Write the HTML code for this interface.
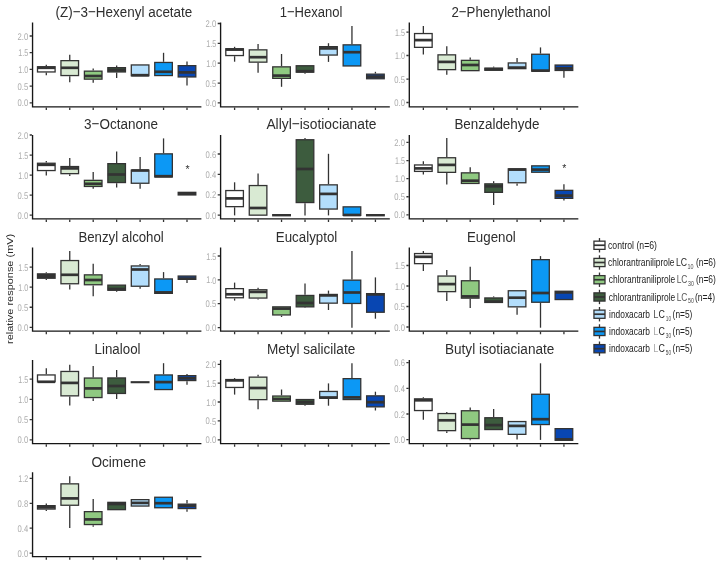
<!DOCTYPE html>
<html><head><meta charset="utf-8"><title>chart</title>
<style>html,body{margin:0;padding:0;background:#fff;}body{width:723px;height:566px;overflow:hidden;font-family:"Liberation Sans",sans-serif;}svg{display:block;will-change:transform;}svg text{font-family:"Liberation Sans",sans-serif;}</style>
</head><body>
<svg width="723" height="566" viewBox="0 0 723 566">
<rect width="723" height="566" fill="#ffffff"/>
<g>
<text x="55.5" y="16.85" font-size="15.3" fill="#2e2e2e" textLength="136.8" lengthAdjust="spacingAndGlyphs">(Z)−3−Hexenyl acetate</text>
<line x1="46.3" y1="64.8" x2="46.3" y2="66.1" stroke="#333333" stroke-width="1.3"/>
<line x1="46.3" y1="72.6" x2="46.3" y2="75.2" stroke="#333333" stroke-width="1.3"/>
<rect x="37.5" y="66.75" width="17.6" height="5.2" fill="#ffffff" stroke="#333333" stroke-width="1.3"/>
<line x1="37.5" y1="67.8" x2="55.1" y2="67.8" stroke="#333333" stroke-width="2.7"/>
<line x1="69.75" y1="54.8" x2="69.75" y2="60" stroke="#333333" stroke-width="1.3"/>
<line x1="69.75" y1="76.2" x2="69.75" y2="82.2" stroke="#333333" stroke-width="1.3"/>
<rect x="60.95" y="60.65" width="17.6" height="14.9" fill="#d9ead3" stroke="#333333" stroke-width="1.3"/>
<line x1="60.95" y1="67.8" x2="78.55" y2="67.8" stroke="#333333" stroke-width="2.7"/>
<line x1="93.2" y1="68.4" x2="93.2" y2="70.5" stroke="#333333" stroke-width="1.3"/>
<line x1="93.2" y1="79.8" x2="93.2" y2="82.8" stroke="#333333" stroke-width="1.3"/>
<rect x="84.4" y="71.15" width="17.6" height="8" fill="#8fc981" stroke="#333333" stroke-width="1.3"/>
<line x1="84.4" y1="76" x2="102" y2="76" stroke="#333333" stroke-width="2.7"/>
<line x1="116.65" y1="65.6" x2="116.65" y2="67" stroke="#333333" stroke-width="1.3"/>
<line x1="116.65" y1="72.6" x2="116.65" y2="78" stroke="#333333" stroke-width="1.3"/>
<rect x="107.85" y="67.65" width="17.6" height="4.3" fill="#3d5c3e" stroke="#333333" stroke-width="1.3"/>
<line x1="107.85" y1="70" x2="125.45" y2="70" stroke="#333333" stroke-width="2.7"/>
<rect x="131.3" y="64.95" width="17.6" height="10.8" fill="#b3defc" stroke="#333333" stroke-width="1.3"/>
<line x1="131.3" y1="75.2" x2="148.9" y2="75.2" stroke="#333333" stroke-width="2.7"/>
<line x1="163.55" y1="52.8" x2="163.55" y2="61.8" stroke="#333333" stroke-width="1.3"/>
<rect x="154.75" y="62.45" width="17.6" height="13.1" fill="#0c98f5" stroke="#333333" stroke-width="1.3"/>
<line x1="154.75" y1="71.8" x2="172.35" y2="71.8" stroke="#333333" stroke-width="2.7"/>
<line x1="187" y1="61.6" x2="187" y2="65" stroke="#333333" stroke-width="1.3"/>
<line x1="187" y1="77.6" x2="187" y2="85.6" stroke="#333333" stroke-width="1.3"/>
<rect x="178.2" y="65.65" width="17.6" height="11.3" fill="#0846b2" stroke="#333333" stroke-width="1.3"/>
<line x1="178.2" y1="72.4" x2="195.8" y2="72.4" stroke="#333333" stroke-width="2.7"/>
<path d="M32.55 22.6V106.8H201.4" fill="none" stroke="#161616" stroke-width="1.35"/>
<path d="M46.3 107.4v2.5M69.75 107.4v2.5M93.2 107.4v2.5M116.65 107.4v2.5M140.1 107.4v2.5M163.55 107.4v2.5M187 107.4v2.5" stroke="#333333" stroke-width="1.3" fill="none"/>
<text x="17.55" y="39.6" font-size="9.7" fill="#acacac" textLength="10.6" lengthAdjust="spacingAndGlyphs" transform="rotate(0.03 23.55 36)">2.0</text>
<text x="18.25" y="56.3" font-size="9.7" fill="#acacac" textLength="9.9" lengthAdjust="spacingAndGlyphs" transform="rotate(0.03 23.55 52.7)">1.5</text>
<text x="18.25" y="73" font-size="9.7" fill="#acacac" textLength="9.9" lengthAdjust="spacingAndGlyphs" transform="rotate(0.03 23.55 69.4)">1.0</text>
<text x="17.55" y="89.7" font-size="9.7" fill="#acacac" textLength="10.6" lengthAdjust="spacingAndGlyphs" transform="rotate(0.03 23.55 86.1)">0.5</text>
<text x="17.55" y="106.4" font-size="9.7" fill="#acacac" textLength="10.6" lengthAdjust="spacingAndGlyphs" transform="rotate(0.03 23.55 102.8)">0.0</text>
<path d="M31.95 36h-2.3M31.95 52.7h-2.3M31.95 69.4h-2.3M31.95 86.1h-2.3M31.95 102.8h-2.3" stroke="#333333" stroke-width="1.3" fill="none"/>
</g>
<g>
<text x="279.7" y="16.85" font-size="15.3" fill="#2e2e2e" textLength="62.8" lengthAdjust="spacingAndGlyphs">1−Hexanol</text>
<line x1="234.6" y1="46.8" x2="234.6" y2="48.1" stroke="#333333" stroke-width="1.3"/>
<line x1="234.6" y1="56.2" x2="234.6" y2="61.7" stroke="#333333" stroke-width="1.3"/>
<rect x="225.8" y="48.75" width="17.6" height="6.8" fill="#ffffff" stroke="#333333" stroke-width="1.3"/>
<line x1="225.8" y1="49.6" x2="243.4" y2="49.6" stroke="#333333" stroke-width="2.7"/>
<line x1="258.07" y1="44.1" x2="258.07" y2="49.2" stroke="#333333" stroke-width="1.3"/>
<line x1="258.07" y1="62.8" x2="258.07" y2="72.7" stroke="#333333" stroke-width="1.3"/>
<rect x="249.27" y="49.85" width="17.6" height="12.3" fill="#d9ead3" stroke="#333333" stroke-width="1.3"/>
<line x1="249.27" y1="57.2" x2="266.87" y2="57.2" stroke="#333333" stroke-width="2.7"/>
<line x1="281.54" y1="54" x2="281.54" y2="66.2" stroke="#333333" stroke-width="1.3"/>
<line x1="281.54" y1="79" x2="281.54" y2="86.8" stroke="#333333" stroke-width="1.3"/>
<rect x="272.74" y="66.85" width="17.6" height="11.5" fill="#8fc981" stroke="#333333" stroke-width="1.3"/>
<line x1="272.74" y1="75.6" x2="290.34" y2="75.6" stroke="#333333" stroke-width="2.7"/>
<line x1="305.01" y1="72.8" x2="305.01" y2="73.7" stroke="#333333" stroke-width="1.3"/>
<rect x="296.21" y="65.75" width="17.6" height="6.4" fill="#3d5c3e" stroke="#333333" stroke-width="1.3"/>
<line x1="296.21" y1="71.2" x2="313.81" y2="71.2" stroke="#333333" stroke-width="2.7"/>
<line x1="328.48" y1="43.2" x2="328.48" y2="46" stroke="#333333" stroke-width="1.3"/>
<line x1="328.48" y1="55.7" x2="328.48" y2="61.9" stroke="#333333" stroke-width="1.3"/>
<rect x="319.68" y="46.65" width="17.6" height="8.4" fill="#b3defc" stroke="#333333" stroke-width="1.3"/>
<line x1="319.68" y1="48.4" x2="337.28" y2="48.4" stroke="#333333" stroke-width="2.7"/>
<line x1="351.95" y1="26.1" x2="351.95" y2="44.2" stroke="#333333" stroke-width="1.3"/>
<rect x="343.15" y="44.85" width="17.6" height="21.1" fill="#0c98f5" stroke="#333333" stroke-width="1.3"/>
<line x1="343.15" y1="52.2" x2="360.75" y2="52.2" stroke="#333333" stroke-width="2.7"/>
<line x1="375.42" y1="71.8" x2="375.42" y2="73.5" stroke="#333333" stroke-width="1.3"/>
<rect x="366.62" y="74.15" width="17.6" height="4.6" fill="#0846b2" stroke="#333333" stroke-width="1.3"/>
<line x1="366.62" y1="76.6" x2="384.22" y2="76.6" stroke="#333333" stroke-width="2.7"/>
<path d="M220.6 22.6V106.8H389.82" fill="none" stroke="#161616" stroke-width="1.35"/>
<path d="M234.6 107.4v2.5M258.07 107.4v2.5M281.54 107.4v2.5M305.01 107.4v2.5M328.48 107.4v2.5M351.95 107.4v2.5M375.42 107.4v2.5" stroke="#333333" stroke-width="1.3" fill="none"/>
<text x="205.6" y="27.1" font-size="9.7" fill="#acacac" textLength="10.6" lengthAdjust="spacingAndGlyphs" transform="rotate(0.03 211.6 23.5)">2.0</text>
<text x="206.3" y="46.95" font-size="9.7" fill="#acacac" textLength="9.9" lengthAdjust="spacingAndGlyphs" transform="rotate(0.03 211.6 43.35)">1.5</text>
<text x="206.3" y="66.8" font-size="9.7" fill="#acacac" textLength="9.9" lengthAdjust="spacingAndGlyphs" transform="rotate(0.03 211.6 63.2)">1.0</text>
<text x="205.6" y="86.65" font-size="9.7" fill="#acacac" textLength="10.6" lengthAdjust="spacingAndGlyphs" transform="rotate(0.03 211.6 83.05)">0.5</text>
<text x="205.6" y="106.5" font-size="9.7" fill="#acacac" textLength="10.6" lengthAdjust="spacingAndGlyphs" transform="rotate(0.03 211.6 102.9)">0.0</text>
<path d="M220 23.5h-2.3M220 43.35h-2.3M220 63.2h-2.3M220 83.05h-2.3M220 102.9h-2.3" stroke="#333333" stroke-width="1.3" fill="none"/>
</g>
<g>
<text x="451.5" y="16.85" font-size="15.3" fill="#2e2e2e" textLength="99.1" lengthAdjust="spacingAndGlyphs">2−Phenylethanol</text>
<line x1="423.35" y1="26.1" x2="423.35" y2="32.9" stroke="#333333" stroke-width="1.3"/>
<line x1="423.35" y1="48" x2="423.35" y2="54.4" stroke="#333333" stroke-width="1.3"/>
<rect x="414.55" y="33.55" width="17.6" height="13.8" fill="#ffffff" stroke="#333333" stroke-width="1.3"/>
<line x1="414.55" y1="40.1" x2="432.15" y2="40.1" stroke="#333333" stroke-width="2.7"/>
<line x1="446.78" y1="46.3" x2="446.78" y2="54.2" stroke="#333333" stroke-width="1.3"/>
<line x1="446.78" y1="70.3" x2="446.78" y2="74.8" stroke="#333333" stroke-width="1.3"/>
<rect x="437.98" y="54.85" width="17.6" height="14.8" fill="#d9ead3" stroke="#333333" stroke-width="1.3"/>
<line x1="437.98" y1="61.9" x2="455.58" y2="61.9" stroke="#333333" stroke-width="2.7"/>
<line x1="470.21" y1="57.4" x2="470.21" y2="59.7" stroke="#333333" stroke-width="1.3"/>
<rect x="461.41" y="60.35" width="17.6" height="10.3" fill="#8fc981" stroke="#333333" stroke-width="1.3"/>
<line x1="461.41" y1="65" x2="479.01" y2="65" stroke="#333333" stroke-width="2.7"/>
<line x1="493.64" y1="66.6" x2="493.64" y2="67.5" stroke="#333333" stroke-width="1.3"/>
<rect x="484.84" y="68.15" width="17.6" height="2.1" fill="#3d5c3e" stroke="#333333" stroke-width="1.3"/>
<line x1="484.84" y1="69.2" x2="502.44" y2="69.2" stroke="#333333" stroke-width="2.7"/>
<line x1="517.07" y1="58.1" x2="517.07" y2="62.3" stroke="#333333" stroke-width="1.3"/>
<rect x="508.27" y="62.95" width="17.6" height="5.7" fill="#b3defc" stroke="#333333" stroke-width="1.3"/>
<line x1="508.27" y1="67.6" x2="525.87" y2="67.6" stroke="#333333" stroke-width="2.7"/>
<line x1="540.5" y1="47.4" x2="540.5" y2="53.6" stroke="#333333" stroke-width="1.3"/>
<rect x="531.7" y="54.25" width="17.6" height="16.9" fill="#0c98f5" stroke="#333333" stroke-width="1.3"/>
<line x1="531.7" y1="70.6" x2="549.3" y2="70.6" stroke="#333333" stroke-width="2.7"/>
<line x1="563.93" y1="71.1" x2="563.93" y2="77.8" stroke="#333333" stroke-width="1.3"/>
<rect x="555.13" y="65.05" width="17.6" height="5.4" fill="#0846b2" stroke="#333333" stroke-width="1.3"/>
<line x1="555.13" y1="68.4" x2="572.73" y2="68.4" stroke="#333333" stroke-width="2.7"/>
<path d="M409.3 22.6V106.8H578.33" fill="none" stroke="#161616" stroke-width="1.35"/>
<path d="M423.35 107.4v2.5M446.78 107.4v2.5M470.21 107.4v2.5M493.64 107.4v2.5M517.07 107.4v2.5M540.5 107.4v2.5M563.93 107.4v2.5" stroke="#333333" stroke-width="1.3" fill="none"/>
<text x="395" y="35.7" font-size="9.7" fill="#acacac" textLength="9.9" lengthAdjust="spacingAndGlyphs" transform="rotate(0.03 400.3 32.1)">1.5</text>
<text x="395" y="59.1" font-size="9.7" fill="#acacac" textLength="9.9" lengthAdjust="spacingAndGlyphs" transform="rotate(0.03 400.3 55.5)">1.0</text>
<text x="394.3" y="82.7" font-size="9.7" fill="#acacac" textLength="10.6" lengthAdjust="spacingAndGlyphs" transform="rotate(0.03 400.3 79.1)">0.5</text>
<text x="394.3" y="106.1" font-size="9.7" fill="#acacac" textLength="10.6" lengthAdjust="spacingAndGlyphs" transform="rotate(0.03 400.3 102.5)">0.0</text>
<path d="M408.7 32.1h-2.3M408.7 55.5h-2.3M408.7 79.1h-2.3M408.7 102.5h-2.3" stroke="#333333" stroke-width="1.3" fill="none"/>
</g>
<g>
<text x="84.1" y="129.33" font-size="15.3" fill="#2e2e2e" textLength="73.9" lengthAdjust="spacingAndGlyphs">3−Octanone</text>
<line x1="46.3" y1="161" x2="46.3" y2="162.6" stroke="#333333" stroke-width="1.3"/>
<line x1="46.3" y1="171.2" x2="46.3" y2="175.5" stroke="#333333" stroke-width="1.3"/>
<rect x="37.5" y="163.25" width="17.6" height="7.3" fill="#ffffff" stroke="#333333" stroke-width="1.3"/>
<line x1="37.5" y1="164.8" x2="55.1" y2="164.8" stroke="#333333" stroke-width="2.7"/>
<line x1="69.75" y1="158" x2="69.75" y2="165.9" stroke="#333333" stroke-width="1.3"/>
<line x1="69.75" y1="174.3" x2="69.75" y2="176.1" stroke="#333333" stroke-width="1.3"/>
<rect x="60.95" y="166.55" width="17.6" height="7.1" fill="#d9ead3" stroke="#333333" stroke-width="1.3"/>
<line x1="60.95" y1="168.4" x2="78.55" y2="168.4" stroke="#333333" stroke-width="2.7"/>
<line x1="93.2" y1="172.1" x2="93.2" y2="179.7" stroke="#333333" stroke-width="1.3"/>
<line x1="93.2" y1="187.1" x2="93.2" y2="188.8" stroke="#333333" stroke-width="1.3"/>
<rect x="84.4" y="180.35" width="17.6" height="6.1" fill="#8fc981" stroke="#333333" stroke-width="1.3"/>
<line x1="84.4" y1="183.8" x2="102" y2="183.8" stroke="#333333" stroke-width="2.7"/>
<line x1="116.65" y1="151.6" x2="116.65" y2="163" stroke="#333333" stroke-width="1.3"/>
<line x1="116.65" y1="183.2" x2="116.65" y2="187.4" stroke="#333333" stroke-width="1.3"/>
<rect x="107.85" y="163.65" width="17.6" height="18.9" fill="#3d5c3e" stroke="#333333" stroke-width="1.3"/>
<line x1="107.85" y1="174.5" x2="125.45" y2="174.5" stroke="#333333" stroke-width="2.7"/>
<line x1="140.1" y1="156.9" x2="140.1" y2="169.5" stroke="#333333" stroke-width="1.3"/>
<line x1="140.1" y1="183.9" x2="140.1" y2="188.8" stroke="#333333" stroke-width="1.3"/>
<rect x="131.3" y="170.15" width="17.6" height="13.1" fill="#b3defc" stroke="#333333" stroke-width="1.3"/>
<line x1="131.3" y1="170.5" x2="148.9" y2="170.5" stroke="#333333" stroke-width="2.7"/>
<line x1="163.55" y1="138.4" x2="163.55" y2="153.2" stroke="#333333" stroke-width="1.3"/>
<rect x="154.75" y="153.85" width="17.6" height="23.1" fill="#0c98f5" stroke="#333333" stroke-width="1.3"/>
<line x1="154.75" y1="176.2" x2="172.35" y2="176.2" stroke="#333333" stroke-width="2.7"/>
<rect x="178.2" y="192.35" width="17.6" height="2.6" fill="#0846b2" stroke="#333333" stroke-width="1.3"/>
<line x1="178.2" y1="193.65" x2="195.8" y2="193.65" stroke="#333333" stroke-width="2.7"/>
<path d="M32.55 134.9V218.9H201.4" fill="none" stroke="#161616" stroke-width="1.35"/>
<path d="M46.3 219.5v2.5M69.75 219.5v2.5M93.2 219.5v2.5M116.65 219.5v2.5M140.1 219.5v2.5M163.55 219.5v2.5M187 219.5v2.5" stroke="#333333" stroke-width="1.3" fill="none"/>
<text x="17.55" y="138.6" font-size="9.7" fill="#acacac" textLength="10.6" lengthAdjust="spacingAndGlyphs" transform="rotate(0.03 23.55 135)">2.0</text>
<text x="18.25" y="158.65" font-size="9.7" fill="#acacac" textLength="9.9" lengthAdjust="spacingAndGlyphs" transform="rotate(0.03 23.55 155.05)">1.5</text>
<text x="18.25" y="178.7" font-size="9.7" fill="#acacac" textLength="9.9" lengthAdjust="spacingAndGlyphs" transform="rotate(0.03 23.55 175.1)">1.0</text>
<text x="17.55" y="198.75" font-size="9.7" fill="#acacac" textLength="10.6" lengthAdjust="spacingAndGlyphs" transform="rotate(0.03 23.55 195.15)">0.5</text>
<text x="17.55" y="218.8" font-size="9.7" fill="#acacac" textLength="10.6" lengthAdjust="spacingAndGlyphs" transform="rotate(0.03 23.55 215.2)">0.0</text>
<path d="M31.95 135h-2.3M31.95 155.05h-2.3M31.95 175.1h-2.3M31.95 195.15h-2.3M31.95 215.2h-2.3" stroke="#333333" stroke-width="1.3" fill="none"/>
<text x="187.6" y="172.6" font-size="10.5" fill="#333" text-anchor="middle">*</text>
</g>
<g>
<text x="266.4" y="129.33" font-size="15.3" fill="#2e2e2e" textLength="110.1" lengthAdjust="spacingAndGlyphs">Allyl−isotiocianate</text>
<line x1="234.6" y1="182.3" x2="234.6" y2="189.9" stroke="#333333" stroke-width="1.3"/>
<line x1="234.6" y1="207.3" x2="234.6" y2="215.4" stroke="#333333" stroke-width="1.3"/>
<rect x="225.8" y="190.55" width="17.6" height="16.1" fill="#ffffff" stroke="#333333" stroke-width="1.3"/>
<line x1="225.8" y1="198.4" x2="243.4" y2="198.4" stroke="#333333" stroke-width="2.7"/>
<line x1="258.07" y1="173.5" x2="258.07" y2="184.9" stroke="#333333" stroke-width="1.3"/>
<rect x="249.27" y="185.55" width="17.6" height="29.6" fill="#d9ead3" stroke="#333333" stroke-width="1.3"/>
<line x1="249.27" y1="208" x2="266.87" y2="208" stroke="#333333" stroke-width="2.7"/>
<rect x="272.09" y="214" width="18.9" height="2.4" fill="#333333"/>
<line x1="305.01" y1="138.1" x2="305.01" y2="139.1" stroke="#333333" stroke-width="1.3"/>
<line x1="305.01" y1="203.2" x2="305.01" y2="215.4" stroke="#333333" stroke-width="1.3"/>
<rect x="296.21" y="139.75" width="17.6" height="62.8" fill="#3d5c3e" stroke="#333333" stroke-width="1.3"/>
<line x1="296.21" y1="169" x2="313.81" y2="169" stroke="#333333" stroke-width="2.7"/>
<line x1="328.48" y1="153.8" x2="328.48" y2="184.2" stroke="#333333" stroke-width="1.3"/>
<line x1="328.48" y1="209.7" x2="328.48" y2="215.4" stroke="#333333" stroke-width="1.3"/>
<rect x="319.68" y="184.85" width="17.6" height="24.2" fill="#b3defc" stroke="#333333" stroke-width="1.3"/>
<line x1="319.68" y1="193.9" x2="337.28" y2="193.9" stroke="#333333" stroke-width="2.7"/>
<rect x="343.15" y="206.85" width="17.6" height="8.5" fill="#0c98f5" stroke="#333333" stroke-width="1.3"/>
<line x1="343.15" y1="215" x2="360.75" y2="215" stroke="#333333" stroke-width="2.7"/>
<rect x="365.97" y="214" width="18.9" height="2.4" fill="#333333"/>
<path d="M220.6 134.9V218.9H389.82" fill="none" stroke="#161616" stroke-width="1.35"/>
<path d="M234.6 219.5v2.5M258.07 219.5v2.5M281.54 219.5v2.5M305.01 219.5v2.5M328.48 219.5v2.5M351.95 219.5v2.5M375.42 219.5v2.5" stroke="#333333" stroke-width="1.3" fill="none"/>
<text x="205.6" y="157.6" font-size="9.7" fill="#acacac" textLength="10.6" lengthAdjust="spacingAndGlyphs" transform="rotate(0.03 211.6 154)">0.6</text>
<text x="205.6" y="178" font-size="9.7" fill="#acacac" textLength="10.6" lengthAdjust="spacingAndGlyphs" transform="rotate(0.03 211.6 174.4)">0.4</text>
<text x="205.6" y="198.4" font-size="9.7" fill="#acacac" textLength="10.6" lengthAdjust="spacingAndGlyphs" transform="rotate(0.03 211.6 194.8)">0.2</text>
<text x="205.6" y="218.8" font-size="9.7" fill="#acacac" textLength="10.6" lengthAdjust="spacingAndGlyphs" transform="rotate(0.03 211.6 215.2)">0.0</text>
<path d="M220 154h-2.3M220 174.4h-2.3M220 194.8h-2.3M220 215.2h-2.3" stroke="#333333" stroke-width="1.3" fill="none"/>
</g>
<g>
<text x="454.4" y="129.33" font-size="15.3" fill="#2e2e2e" textLength="85" lengthAdjust="spacingAndGlyphs">Benzaldehyde</text>
<line x1="423.35" y1="161.2" x2="423.35" y2="164.3" stroke="#333333" stroke-width="1.3"/>
<line x1="423.35" y1="172.05" x2="423.35" y2="174.5" stroke="#333333" stroke-width="1.3"/>
<rect x="414.55" y="164.95" width="17.6" height="6.45" fill="#ffffff" stroke="#333333" stroke-width="1.3"/>
<line x1="414.55" y1="168.4" x2="432.15" y2="168.4" stroke="#333333" stroke-width="2.7"/>
<line x1="446.78" y1="138.1" x2="446.78" y2="157.1" stroke="#333333" stroke-width="1.3"/>
<line x1="446.78" y1="173" x2="446.78" y2="184.5" stroke="#333333" stroke-width="1.3"/>
<rect x="437.98" y="157.75" width="17.6" height="14.6" fill="#d9ead3" stroke="#333333" stroke-width="1.3"/>
<line x1="437.98" y1="164.9" x2="455.58" y2="164.9" stroke="#333333" stroke-width="2.7"/>
<line x1="470.21" y1="167.3" x2="470.21" y2="172.2" stroke="#333333" stroke-width="1.3"/>
<rect x="461.41" y="172.85" width="17.6" height="10.6" fill="#8fc981" stroke="#333333" stroke-width="1.3"/>
<line x1="461.41" y1="180.7" x2="479.01" y2="180.7" stroke="#333333" stroke-width="2.7"/>
<line x1="493.64" y1="181.2" x2="493.64" y2="183.2" stroke="#333333" stroke-width="1.3"/>
<line x1="493.64" y1="193" x2="493.64" y2="205" stroke="#333333" stroke-width="1.3"/>
<rect x="484.84" y="183.85" width="17.6" height="8.5" fill="#3d5c3e" stroke="#333333" stroke-width="1.3"/>
<line x1="484.84" y1="186.3" x2="502.44" y2="186.3" stroke="#333333" stroke-width="2.7"/>
<line x1="517.07" y1="183.4" x2="517.07" y2="185.8" stroke="#333333" stroke-width="1.3"/>
<rect x="508.27" y="168.85" width="17.6" height="13.9" fill="#b3defc" stroke="#333333" stroke-width="1.3"/>
<line x1="508.27" y1="169.6" x2="525.87" y2="169.6" stroke="#333333" stroke-width="2.7"/>
<rect x="531.7" y="165.85" width="17.6" height="6.4" fill="#0c98f5" stroke="#333333" stroke-width="1.3"/>
<line x1="531.7" y1="169.6" x2="549.3" y2="169.6" stroke="#333333" stroke-width="2.7"/>
<line x1="563.93" y1="184.3" x2="563.93" y2="189.7" stroke="#333333" stroke-width="1.3"/>
<line x1="563.93" y1="199" x2="563.93" y2="200.6" stroke="#333333" stroke-width="1.3"/>
<rect x="555.13" y="190.35" width="17.6" height="8" fill="#0846b2" stroke="#333333" stroke-width="1.3"/>
<line x1="555.13" y1="195.6" x2="572.73" y2="195.6" stroke="#333333" stroke-width="2.7"/>
<path d="M409.3 134.9V218.9H578.33" fill="none" stroke="#161616" stroke-width="1.35"/>
<path d="M423.35 219.5v2.5M446.78 219.5v2.5M470.21 219.5v2.5M493.64 219.5v2.5M517.07 219.5v2.5M540.5 219.5v2.5M563.93 219.5v2.5" stroke="#333333" stroke-width="1.3" fill="none"/>
<text x="394.3" y="146.05" font-size="9.7" fill="#acacac" textLength="10.6" lengthAdjust="spacingAndGlyphs" transform="rotate(0.03 400.3 142.45)">2.0</text>
<text x="395" y="164.15" font-size="9.7" fill="#acacac" textLength="9.9" lengthAdjust="spacingAndGlyphs" transform="rotate(0.03 400.3 160.55)">1.5</text>
<text x="395" y="182.25" font-size="9.7" fill="#acacac" textLength="9.9" lengthAdjust="spacingAndGlyphs" transform="rotate(0.03 400.3 178.65)">1.0</text>
<text x="394.3" y="200.35" font-size="9.7" fill="#acacac" textLength="10.6" lengthAdjust="spacingAndGlyphs" transform="rotate(0.03 400.3 196.75)">0.5</text>
<text x="394.3" y="218.45" font-size="9.7" fill="#acacac" textLength="10.6" lengthAdjust="spacingAndGlyphs" transform="rotate(0.03 400.3 214.85)">0.0</text>
<path d="M408.7 142.45h-2.3M408.7 160.55h-2.3M408.7 178.65h-2.3M408.7 196.75h-2.3M408.7 214.85h-2.3" stroke="#333333" stroke-width="1.3" fill="none"/>
<text x="564.2" y="172.3" font-size="10.5" fill="#333" text-anchor="middle">*</text>
</g>
<g>
<text x="78.4" y="241.81" font-size="15.3" fill="#2e2e2e" textLength="85.4" lengthAdjust="spacingAndGlyphs">Benzyl alcohol</text>
<line x1="46.3" y1="272.2" x2="46.3" y2="273.2" stroke="#333333" stroke-width="1.3"/>
<line x1="46.3" y1="278.9" x2="46.3" y2="279.9" stroke="#333333" stroke-width="1.3"/>
<rect x="36.85" y="273.2" width="18.9" height="5.7" fill="#333333"/>
<line x1="69.75" y1="251.1" x2="69.75" y2="259.9" stroke="#333333" stroke-width="1.3"/>
<line x1="69.75" y1="284.4" x2="69.75" y2="289.4" stroke="#333333" stroke-width="1.3"/>
<rect x="60.95" y="260.55" width="17.6" height="23.2" fill="#d9ead3" stroke="#333333" stroke-width="1.3"/>
<line x1="60.95" y1="274.8" x2="78.55" y2="274.8" stroke="#333333" stroke-width="2.7"/>
<line x1="93.2" y1="263.8" x2="93.2" y2="274.2" stroke="#333333" stroke-width="1.3"/>
<line x1="93.2" y1="285.4" x2="93.2" y2="296.3" stroke="#333333" stroke-width="1.3"/>
<rect x="84.4" y="274.85" width="17.6" height="9.9" fill="#8fc981" stroke="#333333" stroke-width="1.3"/>
<line x1="84.4" y1="280" x2="102" y2="280" stroke="#333333" stroke-width="2.7"/>
<line x1="116.65" y1="290.9" x2="116.65" y2="291.8" stroke="#333333" stroke-width="1.3"/>
<rect x="107.85" y="285.15" width="17.6" height="5.1" fill="#3d5c3e" stroke="#333333" stroke-width="1.3"/>
<line x1="107.85" y1="289" x2="125.45" y2="289" stroke="#333333" stroke-width="2.7"/>
<line x1="140.1" y1="264" x2="140.1" y2="265.3" stroke="#333333" stroke-width="1.3"/>
<line x1="140.1" y1="286.9" x2="140.1" y2="288.7" stroke="#333333" stroke-width="1.3"/>
<rect x="131.3" y="265.95" width="17.6" height="20.3" fill="#b3defc" stroke="#333333" stroke-width="1.3"/>
<line x1="131.3" y1="269.5" x2="148.9" y2="269.5" stroke="#333333" stroke-width="2.7"/>
<line x1="163.55" y1="272.1" x2="163.55" y2="278.3" stroke="#333333" stroke-width="1.3"/>
<rect x="154.75" y="278.95" width="17.6" height="14.4" fill="#0c98f5" stroke="#333333" stroke-width="1.3"/>
<line x1="154.75" y1="292.4" x2="172.35" y2="292.4" stroke="#333333" stroke-width="2.7"/>
<line x1="187" y1="280" x2="187" y2="282.9" stroke="#333333" stroke-width="1.3"/>
<rect x="178.2" y="276.05" width="17.6" height="3.3" fill="#0846b2" stroke="#333333" stroke-width="1.3"/>
<line x1="178.2" y1="278.6" x2="195.8" y2="278.6" stroke="#333333" stroke-width="2.7"/>
<path d="M32.55 247.6V331.1H201.4" fill="none" stroke="#161616" stroke-width="1.35"/>
<path d="M46.3 331.7v2.5M69.75 331.7v2.5M93.2 331.7v2.5M116.65 331.7v2.5M140.1 331.7v2.5M163.55 331.7v2.5M187 331.7v2.5" stroke="#333333" stroke-width="1.3" fill="none"/>
<text x="18.25" y="270.65" font-size="9.7" fill="#acacac" textLength="9.9" lengthAdjust="spacingAndGlyphs" transform="rotate(0.03 23.55 267.05)">1.5</text>
<text x="18.25" y="290.75" font-size="9.7" fill="#acacac" textLength="9.9" lengthAdjust="spacingAndGlyphs" transform="rotate(0.03 23.55 287.15)">1.0</text>
<text x="17.55" y="310.85" font-size="9.7" fill="#acacac" textLength="10.6" lengthAdjust="spacingAndGlyphs" transform="rotate(0.03 23.55 307.25)">0.5</text>
<text x="17.55" y="330.95" font-size="9.7" fill="#acacac" textLength="10.6" lengthAdjust="spacingAndGlyphs" transform="rotate(0.03 23.55 327.35)">0.0</text>
<path d="M31.95 267.05h-2.3M31.95 287.15h-2.3M31.95 307.25h-2.3M31.95 327.35h-2.3" stroke="#333333" stroke-width="1.3" fill="none"/>
</g>
<g>
<text x="275.8" y="241.81" font-size="15.3" fill="#2e2e2e" textLength="61.5" lengthAdjust="spacingAndGlyphs">Eucalyptol</text>
<line x1="234.6" y1="282.6" x2="234.6" y2="288" stroke="#333333" stroke-width="1.3"/>
<line x1="234.6" y1="298.4" x2="234.6" y2="300.6" stroke="#333333" stroke-width="1.3"/>
<rect x="225.8" y="288.65" width="17.6" height="9.1" fill="#ffffff" stroke="#333333" stroke-width="1.3"/>
<line x1="225.8" y1="294.3" x2="243.4" y2="294.3" stroke="#333333" stroke-width="2.7"/>
<line x1="258.07" y1="287.8" x2="258.07" y2="289.1" stroke="#333333" stroke-width="1.3"/>
<line x1="258.07" y1="298.7" x2="258.07" y2="299.6" stroke="#333333" stroke-width="1.3"/>
<rect x="249.27" y="289.75" width="17.6" height="8.3" fill="#d9ead3" stroke="#333333" stroke-width="1.3"/>
<line x1="249.27" y1="291.9" x2="266.87" y2="291.9" stroke="#333333" stroke-width="2.7"/>
<line x1="281.54" y1="315.6" x2="281.54" y2="317" stroke="#333333" stroke-width="1.3"/>
<rect x="272.74" y="306.85" width="17.6" height="8.1" fill="#8fc981" stroke="#333333" stroke-width="1.3"/>
<line x1="272.74" y1="308.6" x2="290.34" y2="308.6" stroke="#333333" stroke-width="2.7"/>
<line x1="305.01" y1="283.4" x2="305.01" y2="294.8" stroke="#333333" stroke-width="1.3"/>
<line x1="305.01" y1="307.5" x2="305.01" y2="308.1" stroke="#333333" stroke-width="1.3"/>
<rect x="296.21" y="295.45" width="17.6" height="11.4" fill="#3d5c3e" stroke="#333333" stroke-width="1.3"/>
<line x1="296.21" y1="303" x2="313.81" y2="303" stroke="#333333" stroke-width="2.7"/>
<line x1="328.48" y1="290.6" x2="328.48" y2="293.8" stroke="#333333" stroke-width="1.3"/>
<line x1="328.48" y1="303.8" x2="328.48" y2="310" stroke="#333333" stroke-width="1.3"/>
<rect x="319.68" y="294.45" width="17.6" height="8.7" fill="#b3defc" stroke="#333333" stroke-width="1.3"/>
<line x1="319.68" y1="295.4" x2="337.28" y2="295.4" stroke="#333333" stroke-width="2.7"/>
<line x1="351.95" y1="251.1" x2="351.95" y2="279.5" stroke="#333333" stroke-width="1.3"/>
<line x1="351.95" y1="304.1" x2="351.95" y2="327.8" stroke="#333333" stroke-width="1.3"/>
<rect x="343.15" y="280.15" width="17.6" height="23.3" fill="#0c98f5" stroke="#333333" stroke-width="1.3"/>
<line x1="343.15" y1="292.5" x2="360.75" y2="292.5" stroke="#333333" stroke-width="2.7"/>
<line x1="375.42" y1="277.4" x2="375.42" y2="293" stroke="#333333" stroke-width="1.3"/>
<line x1="375.42" y1="312.9" x2="375.42" y2="318.7" stroke="#333333" stroke-width="1.3"/>
<rect x="366.62" y="293.65" width="17.6" height="18.6" fill="#0846b2" stroke="#333333" stroke-width="1.3"/>
<line x1="366.62" y1="294.4" x2="384.22" y2="294.4" stroke="#333333" stroke-width="2.7"/>
<path d="M220.6 247.6V331.1H389.82" fill="none" stroke="#161616" stroke-width="1.35"/>
<path d="M234.6 331.7v2.5M258.07 331.7v2.5M281.54 331.7v2.5M305.01 331.7v2.5M328.48 331.7v2.5M351.95 331.7v2.5M375.42 331.7v2.5" stroke="#333333" stroke-width="1.3" fill="none"/>
<text x="206.3" y="259.6" font-size="9.7" fill="#acacac" textLength="9.9" lengthAdjust="spacingAndGlyphs" transform="rotate(0.03 211.6 256)">1.5</text>
<text x="206.3" y="283.5" font-size="9.7" fill="#acacac" textLength="9.9" lengthAdjust="spacingAndGlyphs" transform="rotate(0.03 211.6 279.9)">1.0</text>
<text x="205.6" y="307.3" font-size="9.7" fill="#acacac" textLength="10.6" lengthAdjust="spacingAndGlyphs" transform="rotate(0.03 211.6 303.7)">0.5</text>
<text x="205.6" y="331.2" font-size="9.7" fill="#acacac" textLength="10.6" lengthAdjust="spacingAndGlyphs" transform="rotate(0.03 211.6 327.6)">0.0</text>
<path d="M220 256h-2.3M220 279.9h-2.3M220 303.7h-2.3M220 327.6h-2.3" stroke="#333333" stroke-width="1.3" fill="none"/>
</g>
<g>
<text x="467" y="241.81" font-size="15.3" fill="#2e2e2e" textLength="48.8" lengthAdjust="spacingAndGlyphs">Eugenol</text>
<line x1="423.35" y1="251" x2="423.35" y2="252.9" stroke="#333333" stroke-width="1.3"/>
<line x1="423.35" y1="264.3" x2="423.35" y2="270.9" stroke="#333333" stroke-width="1.3"/>
<rect x="414.55" y="253.55" width="17.6" height="10.1" fill="#ffffff" stroke="#333333" stroke-width="1.3"/>
<line x1="414.55" y1="256.8" x2="432.15" y2="256.8" stroke="#333333" stroke-width="2.7"/>
<line x1="446.78" y1="270" x2="446.78" y2="275.4" stroke="#333333" stroke-width="1.3"/>
<line x1="446.78" y1="292.3" x2="446.78" y2="300.9" stroke="#333333" stroke-width="1.3"/>
<rect x="437.98" y="276.05" width="17.6" height="15.6" fill="#d9ead3" stroke="#333333" stroke-width="1.3"/>
<line x1="437.98" y1="284.1" x2="455.58" y2="284.1" stroke="#333333" stroke-width="2.7"/>
<line x1="470.21" y1="266.8" x2="470.21" y2="280.1" stroke="#333333" stroke-width="1.3"/>
<line x1="470.21" y1="298.8" x2="470.21" y2="308" stroke="#333333" stroke-width="1.3"/>
<rect x="461.41" y="280.75" width="17.6" height="17.4" fill="#8fc981" stroke="#333333" stroke-width="1.3"/>
<line x1="461.41" y1="296.4" x2="479.01" y2="296.4" stroke="#333333" stroke-width="2.7"/>
<line x1="493.64" y1="296.4" x2="493.64" y2="297.3" stroke="#333333" stroke-width="1.3"/>
<rect x="484.84" y="297.95" width="17.6" height="4.5" fill="#3d5c3e" stroke="#333333" stroke-width="1.3"/>
<line x1="484.84" y1="301.6" x2="502.44" y2="301.6" stroke="#333333" stroke-width="2.7"/>
<line x1="517.07" y1="307.5" x2="517.07" y2="314.8" stroke="#333333" stroke-width="1.3"/>
<rect x="508.27" y="290.75" width="17.6" height="16.1" fill="#b3defc" stroke="#333333" stroke-width="1.3"/>
<line x1="508.27" y1="297.7" x2="525.87" y2="297.7" stroke="#333333" stroke-width="2.7"/>
<line x1="540.5" y1="256.1" x2="540.5" y2="259" stroke="#333333" stroke-width="1.3"/>
<line x1="540.5" y1="302.9" x2="540.5" y2="327.7" stroke="#333333" stroke-width="1.3"/>
<rect x="531.7" y="259.65" width="17.6" height="42.6" fill="#0c98f5" stroke="#333333" stroke-width="1.3"/>
<line x1="531.7" y1="293" x2="549.3" y2="293" stroke="#333333" stroke-width="2.7"/>
<rect x="555.13" y="291.25" width="17.6" height="8.3" fill="#0846b2" stroke="#333333" stroke-width="1.3"/>
<line x1="555.13" y1="292.4" x2="572.73" y2="292.4" stroke="#333333" stroke-width="2.7"/>
<path d="M409.3 247.6V331.1H578.33" fill="none" stroke="#161616" stroke-width="1.35"/>
<path d="M423.35 331.7v2.5M446.78 331.7v2.5M470.21 331.7v2.5M493.64 331.7v2.5M517.07 331.7v2.5M540.5 331.7v2.5M563.93 331.7v2.5" stroke="#333333" stroke-width="1.3" fill="none"/>
<text x="395" y="269.1" font-size="9.7" fill="#acacac" textLength="9.9" lengthAdjust="spacingAndGlyphs" transform="rotate(0.03 400.3 265.5)">1.5</text>
<text x="395" y="289.6" font-size="9.7" fill="#acacac" textLength="9.9" lengthAdjust="spacingAndGlyphs" transform="rotate(0.03 400.3 286)">1.0</text>
<text x="394.3" y="310.1" font-size="9.7" fill="#acacac" textLength="10.6" lengthAdjust="spacingAndGlyphs" transform="rotate(0.03 400.3 306.5)">0.5</text>
<text x="394.3" y="330.6" font-size="9.7" fill="#acacac" textLength="10.6" lengthAdjust="spacingAndGlyphs" transform="rotate(0.03 400.3 327)">0.0</text>
<path d="M408.7 265.5h-2.3M408.7 286h-2.3M408.7 306.5h-2.3M408.7 327h-2.3" stroke="#333333" stroke-width="1.3" fill="none"/>
</g>
<g>
<text x="94.6" y="354.29" font-size="15.3" fill="#2e2e2e" textLength="45.9" lengthAdjust="spacingAndGlyphs">Linalool</text>
<line x1="46.3" y1="368.2" x2="46.3" y2="374.3" stroke="#333333" stroke-width="1.3"/>
<rect x="37.5" y="374.95" width="17.6" height="6.8" fill="#ffffff" stroke="#333333" stroke-width="1.3"/>
<line x1="37.5" y1="381.8" x2="55.1" y2="381.8" stroke="#333333" stroke-width="2.7"/>
<line x1="69.75" y1="364.8" x2="69.75" y2="370.8" stroke="#333333" stroke-width="1.3"/>
<line x1="69.75" y1="396.5" x2="69.75" y2="405.4" stroke="#333333" stroke-width="1.3"/>
<rect x="60.95" y="371.45" width="17.6" height="24.4" fill="#d9ead3" stroke="#333333" stroke-width="1.3"/>
<line x1="60.95" y1="382.9" x2="78.55" y2="382.9" stroke="#333333" stroke-width="2.7"/>
<line x1="93.2" y1="366" x2="93.2" y2="377.4" stroke="#333333" stroke-width="1.3"/>
<line x1="93.2" y1="398.2" x2="93.2" y2="401" stroke="#333333" stroke-width="1.3"/>
<rect x="84.4" y="378.05" width="17.6" height="19.5" fill="#8fc981" stroke="#333333" stroke-width="1.3"/>
<line x1="84.4" y1="388.4" x2="102" y2="388.4" stroke="#333333" stroke-width="2.7"/>
<line x1="116.65" y1="370" x2="116.65" y2="377.3" stroke="#333333" stroke-width="1.3"/>
<line x1="116.65" y1="394.1" x2="116.65" y2="399.1" stroke="#333333" stroke-width="1.3"/>
<rect x="107.85" y="377.95" width="17.6" height="15.5" fill="#3d5c3e" stroke="#333333" stroke-width="1.3"/>
<line x1="107.85" y1="386" x2="125.45" y2="386" stroke="#333333" stroke-width="2.7"/>
<rect x="130.65" y="381.15" width="18.9" height="2.1" fill="#333333"/>
<line x1="163.55" y1="363.2" x2="163.55" y2="374.3" stroke="#333333" stroke-width="1.3"/>
<rect x="154.75" y="374.95" width="17.6" height="14.6" fill="#0c98f5" stroke="#333333" stroke-width="1.3"/>
<line x1="154.75" y1="382.1" x2="172.35" y2="382.1" stroke="#333333" stroke-width="2.7"/>
<line x1="187" y1="373.9" x2="187" y2="375" stroke="#333333" stroke-width="1.3"/>
<line x1="187" y1="381.2" x2="187" y2="384.8" stroke="#333333" stroke-width="1.3"/>
<rect x="178.2" y="375.65" width="17.6" height="4.9" fill="#0846b2" stroke="#333333" stroke-width="1.3"/>
<line x1="178.2" y1="378.3" x2="195.8" y2="378.3" stroke="#333333" stroke-width="2.7"/>
<path d="M32.55 360.1V443.6H201.4" fill="none" stroke="#161616" stroke-width="1.35"/>
<path d="M46.3 444.2v2.5M69.75 444.2v2.5M93.2 444.2v2.5M116.65 444.2v2.5M140.1 444.2v2.5M163.55 444.2v2.5M187 444.2v2.5" stroke="#333333" stroke-width="1.3" fill="none"/>
<text x="18.25" y="382.8" font-size="9.7" fill="#acacac" textLength="9.9" lengthAdjust="spacingAndGlyphs" transform="rotate(0.03 23.55 379.2)">1.5</text>
<text x="18.25" y="403" font-size="9.7" fill="#acacac" textLength="9.9" lengthAdjust="spacingAndGlyphs" transform="rotate(0.03 23.55 399.4)">1.0</text>
<text x="17.55" y="423.2" font-size="9.7" fill="#acacac" textLength="10.6" lengthAdjust="spacingAndGlyphs" transform="rotate(0.03 23.55 419.6)">0.5</text>
<text x="17.55" y="443.4" font-size="9.7" fill="#acacac" textLength="10.6" lengthAdjust="spacingAndGlyphs" transform="rotate(0.03 23.55 439.8)">0.0</text>
<path d="M31.95 379.2h-2.3M31.95 399.4h-2.3M31.95 419.6h-2.3M31.95 439.8h-2.3" stroke="#333333" stroke-width="1.3" fill="none"/>
</g>
<g>
<text x="267" y="354.29" font-size="15.3" fill="#2e2e2e" textLength="88.2" lengthAdjust="spacingAndGlyphs">Metyl salicilate</text>
<line x1="234.6" y1="378" x2="234.6" y2="378.9" stroke="#333333" stroke-width="1.3"/>
<line x1="234.6" y1="388.1" x2="234.6" y2="394.6" stroke="#333333" stroke-width="1.3"/>
<rect x="225.8" y="379.55" width="17.6" height="7.9" fill="#ffffff" stroke="#333333" stroke-width="1.3"/>
<line x1="225.8" y1="380.4" x2="243.4" y2="380.4" stroke="#333333" stroke-width="2.7"/>
<line x1="258.07" y1="374.8" x2="258.07" y2="376.5" stroke="#333333" stroke-width="1.3"/>
<line x1="258.07" y1="400.3" x2="258.07" y2="409.3" stroke="#333333" stroke-width="1.3"/>
<rect x="249.27" y="377.15" width="17.6" height="22.5" fill="#d9ead3" stroke="#333333" stroke-width="1.3"/>
<line x1="249.27" y1="388" x2="266.87" y2="388" stroke="#333333" stroke-width="2.7"/>
<line x1="281.54" y1="389.5" x2="281.54" y2="395.4" stroke="#333333" stroke-width="1.3"/>
<rect x="272.74" y="396.05" width="17.6" height="5.1" fill="#8fc981" stroke="#333333" stroke-width="1.3"/>
<line x1="272.74" y1="398.9" x2="290.34" y2="398.9" stroke="#333333" stroke-width="2.7"/>
<line x1="305.01" y1="404.9" x2="305.01" y2="405.8" stroke="#333333" stroke-width="1.3"/>
<rect x="296.21" y="399.55" width="17.6" height="4.7" fill="#3d5c3e" stroke="#333333" stroke-width="1.3"/>
<line x1="296.21" y1="402.2" x2="313.81" y2="402.2" stroke="#333333" stroke-width="2.7"/>
<line x1="328.48" y1="383.4" x2="328.48" y2="390.8" stroke="#333333" stroke-width="1.3"/>
<line x1="328.48" y1="398.9" x2="328.48" y2="405.7" stroke="#333333" stroke-width="1.3"/>
<rect x="319.68" y="391.45" width="17.6" height="6.8" fill="#b3defc" stroke="#333333" stroke-width="1.3"/>
<line x1="319.68" y1="397.5" x2="337.28" y2="397.5" stroke="#333333" stroke-width="2.7"/>
<line x1="351.95" y1="363.2" x2="351.95" y2="378" stroke="#333333" stroke-width="1.3"/>
<rect x="343.15" y="378.65" width="17.6" height="20.9" fill="#0c98f5" stroke="#333333" stroke-width="1.3"/>
<line x1="343.15" y1="397.4" x2="360.75" y2="397.4" stroke="#333333" stroke-width="2.7"/>
<line x1="375.42" y1="391.7" x2="375.42" y2="395.2" stroke="#333333" stroke-width="1.3"/>
<line x1="375.42" y1="407.5" x2="375.42" y2="410.5" stroke="#333333" stroke-width="1.3"/>
<rect x="366.62" y="395.85" width="17.6" height="11" fill="#0846b2" stroke="#333333" stroke-width="1.3"/>
<line x1="366.62" y1="402.2" x2="384.22" y2="402.2" stroke="#333333" stroke-width="2.7"/>
<path d="M220.6 360.1V443.6H389.82" fill="none" stroke="#161616" stroke-width="1.35"/>
<path d="M234.6 444.2v2.5M258.07 444.2v2.5M281.54 444.2v2.5M305.01 444.2v2.5M328.48 444.2v2.5M351.95 444.2v2.5M375.42 444.2v2.5" stroke="#333333" stroke-width="1.3" fill="none"/>
<text x="205.6" y="367.9" font-size="9.7" fill="#acacac" textLength="10.6" lengthAdjust="spacingAndGlyphs" transform="rotate(0.03 211.6 364.3)">2.0</text>
<text x="206.3" y="386.8" font-size="9.7" fill="#acacac" textLength="9.9" lengthAdjust="spacingAndGlyphs" transform="rotate(0.03 211.6 383.2)">1.5</text>
<text x="206.3" y="405.6" font-size="9.7" fill="#acacac" textLength="9.9" lengthAdjust="spacingAndGlyphs" transform="rotate(0.03 211.6 402)">1.0</text>
<text x="205.6" y="424.5" font-size="9.7" fill="#acacac" textLength="10.6" lengthAdjust="spacingAndGlyphs" transform="rotate(0.03 211.6 420.9)">0.5</text>
<text x="205.6" y="443.4" font-size="9.7" fill="#acacac" textLength="10.6" lengthAdjust="spacingAndGlyphs" transform="rotate(0.03 211.6 439.8)">0.0</text>
<path d="M220 364.3h-2.3M220 383.2h-2.3M220 402h-2.3M220 420.9h-2.3M220 439.8h-2.3" stroke="#333333" stroke-width="1.3" fill="none"/>
</g>
<g>
<text x="445" y="354.29" font-size="15.3" fill="#2e2e2e" textLength="109.3" lengthAdjust="spacingAndGlyphs">Butyl isotiacianate</text>
<line x1="423.35" y1="397.2" x2="423.35" y2="398.2" stroke="#333333" stroke-width="1.3"/>
<line x1="423.35" y1="411.2" x2="423.35" y2="419.7" stroke="#333333" stroke-width="1.3"/>
<rect x="414.55" y="398.85" width="17.6" height="11.7" fill="#ffffff" stroke="#333333" stroke-width="1.3"/>
<line x1="414.55" y1="400.3" x2="432.15" y2="400.3" stroke="#333333" stroke-width="2.7"/>
<line x1="446.78" y1="412" x2="446.78" y2="412.9" stroke="#333333" stroke-width="1.3"/>
<line x1="446.78" y1="431.3" x2="446.78" y2="433" stroke="#333333" stroke-width="1.3"/>
<rect x="437.98" y="413.55" width="17.6" height="17.1" fill="#d9ead3" stroke="#333333" stroke-width="1.3"/>
<line x1="437.98" y1="420.3" x2="455.58" y2="420.3" stroke="#333333" stroke-width="2.7"/>
<line x1="470.21" y1="407.4" x2="470.21" y2="410.1" stroke="#333333" stroke-width="1.3"/>
<line x1="470.21" y1="439.2" x2="470.21" y2="440.2" stroke="#333333" stroke-width="1.3"/>
<rect x="461.41" y="410.75" width="17.6" height="27.8" fill="#8fc981" stroke="#333333" stroke-width="1.3"/>
<line x1="461.41" y1="424.6" x2="479.01" y2="424.6" stroke="#333333" stroke-width="2.7"/>
<line x1="493.64" y1="409" x2="493.64" y2="417.1" stroke="#333333" stroke-width="1.3"/>
<rect x="484.84" y="417.75" width="17.6" height="11.8" fill="#3d5c3e" stroke="#333333" stroke-width="1.3"/>
<line x1="484.84" y1="425.1" x2="502.44" y2="425.1" stroke="#333333" stroke-width="2.7"/>
<line x1="517.07" y1="435" x2="517.07" y2="439.6" stroke="#333333" stroke-width="1.3"/>
<rect x="508.27" y="421.55" width="17.6" height="12.8" fill="#b3defc" stroke="#333333" stroke-width="1.3"/>
<line x1="508.27" y1="425.9" x2="525.87" y2="425.9" stroke="#333333" stroke-width="2.7"/>
<line x1="540.5" y1="363.3" x2="540.5" y2="393.6" stroke="#333333" stroke-width="1.3"/>
<line x1="540.5" y1="425.2" x2="540.5" y2="439.9" stroke="#333333" stroke-width="1.3"/>
<rect x="531.7" y="394.25" width="17.6" height="30.3" fill="#0c98f5" stroke="#333333" stroke-width="1.3"/>
<line x1="531.7" y1="419.2" x2="549.3" y2="419.2" stroke="#333333" stroke-width="2.7"/>
<rect x="555.13" y="428.65" width="17.6" height="11.6" fill="#0846b2" stroke="#333333" stroke-width="1.3"/>
<line x1="555.13" y1="439.4" x2="572.73" y2="439.4" stroke="#333333" stroke-width="2.7"/>
<path d="M409.3 360.1V443.6H578.33" fill="none" stroke="#161616" stroke-width="1.35"/>
<path d="M423.35 444.2v2.5M446.78 444.2v2.5M470.21 444.2v2.5M493.64 444.2v2.5M517.07 444.2v2.5M540.5 444.2v2.5M563.93 444.2v2.5" stroke="#333333" stroke-width="1.3" fill="none"/>
<text x="394.3" y="366.3" font-size="9.7" fill="#acacac" textLength="10.6" lengthAdjust="spacingAndGlyphs" transform="rotate(0.03 400.3 362.7)">0.6</text>
<text x="394.3" y="392" font-size="9.7" fill="#acacac" textLength="10.6" lengthAdjust="spacingAndGlyphs" transform="rotate(0.03 400.3 388.4)">0.4</text>
<text x="394.3" y="417.6" font-size="9.7" fill="#acacac" textLength="10.6" lengthAdjust="spacingAndGlyphs" transform="rotate(0.03 400.3 414)">0.2</text>
<text x="394.3" y="443.3" font-size="9.7" fill="#acacac" textLength="10.6" lengthAdjust="spacingAndGlyphs" transform="rotate(0.03 400.3 439.7)">0.0</text>
<path d="M408.7 362.7h-2.3M408.7 388.4h-2.3M408.7 414h-2.3M408.7 439.7h-2.3" stroke="#333333" stroke-width="1.3" fill="none"/>
</g>
<g>
<text x="91.4" y="466.77" font-size="15.3" fill="#2e2e2e" textLength="54.6" lengthAdjust="spacingAndGlyphs">Ocimene</text>
<line x1="46.3" y1="503.4" x2="46.3" y2="505" stroke="#333333" stroke-width="1.3"/>
<line x1="46.3" y1="509.7" x2="46.3" y2="510.9" stroke="#333333" stroke-width="1.3"/>
<rect x="37.5" y="505.65" width="17.6" height="3.4" fill="#ffffff" stroke="#333333" stroke-width="1.3"/>
<line x1="37.5" y1="507.35" x2="55.1" y2="507.35" stroke="#333333" stroke-width="2.7"/>
<line x1="69.75" y1="476.3" x2="69.75" y2="483.2" stroke="#333333" stroke-width="1.3"/>
<line x1="69.75" y1="505.9" x2="69.75" y2="527.9" stroke="#333333" stroke-width="1.3"/>
<rect x="60.95" y="483.85" width="17.6" height="21.4" fill="#d9ead3" stroke="#333333" stroke-width="1.3"/>
<line x1="60.95" y1="498.4" x2="78.55" y2="498.4" stroke="#333333" stroke-width="2.7"/>
<line x1="93.2" y1="499" x2="93.2" y2="511" stroke="#333333" stroke-width="1.3"/>
<line x1="93.2" y1="525.2" x2="93.2" y2="526.8" stroke="#333333" stroke-width="1.3"/>
<rect x="84.4" y="511.65" width="17.6" height="12.9" fill="#8fc981" stroke="#333333" stroke-width="1.3"/>
<line x1="84.4" y1="519.4" x2="102" y2="519.4" stroke="#333333" stroke-width="2.7"/>
<rect x="107.85" y="502.35" width="17.6" height="7.3" fill="#3d5c3e" stroke="#333333" stroke-width="1.3"/>
<line x1="107.85" y1="504" x2="125.45" y2="504" stroke="#333333" stroke-width="2.7"/>
<rect x="131.3" y="499.65" width="17.6" height="6.4" fill="#b3defc" stroke="#333333" stroke-width="1.3"/>
<line x1="131.3" y1="502.9" x2="148.9" y2="502.9" stroke="#333333" stroke-width="2.7"/>
<rect x="154.75" y="497.25" width="17.6" height="10.5" fill="#0c98f5" stroke="#333333" stroke-width="1.3"/>
<line x1="154.75" y1="503.2" x2="172.35" y2="503.2" stroke="#333333" stroke-width="2.7"/>
<line x1="187" y1="499.9" x2="187" y2="503.5" stroke="#333333" stroke-width="1.3"/>
<line x1="187" y1="509.2" x2="187" y2="511.8" stroke="#333333" stroke-width="1.3"/>
<rect x="178.2" y="504.15" width="17.6" height="4.4" fill="#0846b2" stroke="#333333" stroke-width="1.3"/>
<line x1="178.2" y1="505.7" x2="195.8" y2="505.7" stroke="#333333" stroke-width="2.7"/>
<path d="M32.55 472.2V556.6H201.4" fill="none" stroke="#161616" stroke-width="1.35"/>
<path d="M46.3 557.2v2.5M69.75 557.2v2.5M93.2 557.2v2.5M116.65 557.2v2.5M140.1 557.2v2.5M163.55 557.2v2.5M187 557.2v2.5" stroke="#333333" stroke-width="1.3" fill="none"/>
<text x="18.25" y="482" font-size="9.7" fill="#acacac" textLength="9.9" lengthAdjust="spacingAndGlyphs" transform="rotate(0.03 23.55 478.4)">1.2</text>
<text x="17.55" y="506.9" font-size="9.7" fill="#acacac" textLength="10.6" lengthAdjust="spacingAndGlyphs" transform="rotate(0.03 23.55 503.3)">0.8</text>
<text x="17.55" y="531.8" font-size="9.7" fill="#acacac" textLength="10.6" lengthAdjust="spacingAndGlyphs" transform="rotate(0.03 23.55 528.2)">0.4</text>
<text x="17.55" y="556.7" font-size="9.7" fill="#acacac" textLength="10.6" lengthAdjust="spacingAndGlyphs" transform="rotate(0.03 23.55 553.1)">0.0</text>
<path d="M31.95 478.4h-2.3M31.95 503.3h-2.3M31.95 528.2h-2.3M31.95 553.1h-2.3" stroke="#333333" stroke-width="1.3" fill="none"/>
</g>
<text transform="translate(12.8 343.9) rotate(-90)" font-size="8.2" fill="#2a2a2a" textLength="110.1" lengthAdjust="spacingAndGlyphs">relative response (mV)</text>
<line x1="599.48" y1="238.05" x2="599.48" y2="252.45" stroke="#333333" stroke-width="1.3"/>
<rect x="593.95" y="241.15" width="11.05" height="8.2" fill="#ffffff" stroke="#333333" stroke-width="1.3"/>
<line x1="593.95" y1="245.25" x2="605" y2="245.25" stroke="#333333" stroke-width="1.7"/>
<text x="608" y="249" font-size="10.0" fill="#222" textLength="48.9" lengthAdjust="spacingAndGlyphs">control (n=6)</text>
<line x1="599.48" y1="255.29" x2="599.48" y2="269.69" stroke="#333333" stroke-width="1.3"/>
<rect x="593.95" y="258.39" width="11.05" height="8.2" fill="#d9ead3" stroke="#333333" stroke-width="1.3"/>
<line x1="593.95" y1="262.49" x2="605" y2="262.49" stroke="#333333" stroke-width="1.7"/>
<text x="608" y="266.24" font-size="10.0" fill="#222" textLength="66.5" lengthAdjust="spacingAndGlyphs">chlorantraniliprole</text>
<text x="675.9" y="266.24" font-size="10.0" fill="#2a2a2a" textLength="11.1" lengthAdjust="spacingAndGlyphs">LC</text>
<text x="687.6" y="268.94" font-size="6.4" fill="#484848" textLength="6" lengthAdjust="spacingAndGlyphs">10</text>
<text x="695.9" y="266.24" font-size="10.0" fill="#222" textLength="20" lengthAdjust="spacingAndGlyphs">(n=6)</text>
<line x1="599.48" y1="272.53" x2="599.48" y2="286.93" stroke="#333333" stroke-width="1.3"/>
<rect x="593.95" y="275.63" width="11.05" height="8.2" fill="#8fc981" stroke="#333333" stroke-width="1.3"/>
<line x1="593.95" y1="279.73" x2="605" y2="279.73" stroke="#333333" stroke-width="1.7"/>
<text x="608.8" y="283.48" font-size="10.0" fill="#222" textLength="66.5" lengthAdjust="spacingAndGlyphs">chlorantraniliprole</text>
<text x="676.7" y="283.48" font-size="10.0" fill="#555" textLength="10.7" lengthAdjust="spacingAndGlyphs">LC</text>
<text x="688" y="286.18" font-size="6.4" fill="#484848" textLength="5.84" lengthAdjust="spacingAndGlyphs">30</text>
<text x="695.9" y="283.48" font-size="10.0" fill="#222" textLength="20" lengthAdjust="spacingAndGlyphs">(n=6)</text>
<line x1="599.48" y1="289.77" x2="599.48" y2="304.17" stroke="#333333" stroke-width="1.3"/>
<rect x="593.95" y="292.87" width="11.05" height="8.2" fill="#3d5c3e" stroke="#333333" stroke-width="1.3"/>
<line x1="593.95" y1="296.97" x2="605" y2="296.97" stroke="#333333" stroke-width="1.7"/>
<text x="608.8" y="300.72" font-size="10.0" fill="#222" textLength="66.5" lengthAdjust="spacingAndGlyphs">chlorantraniliprole</text>
<text x="676.7" y="300.72" font-size="10.0" fill="#555" textLength="10.7" lengthAdjust="spacingAndGlyphs">LC</text>
<text x="688" y="303.42" font-size="6.4" fill="#484848" textLength="5.84" lengthAdjust="spacingAndGlyphs">50</text>
<text x="695" y="300.72" font-size="10.0" fill="#222" textLength="20" lengthAdjust="spacingAndGlyphs">(n=4)</text>
<line x1="599.48" y1="307.01" x2="599.48" y2="321.41" stroke="#333333" stroke-width="1.3"/>
<rect x="593.95" y="310.11" width="11.05" height="8.2" fill="#b3defc" stroke="#333333" stroke-width="1.3"/>
<line x1="593.95" y1="314.21" x2="605" y2="314.21" stroke="#333333" stroke-width="1.7"/>
<text x="609.1" y="317.96" font-size="10.0" fill="#222" textLength="40.9" lengthAdjust="spacingAndGlyphs">indoxacarb</text>
<text x="653.3" y="317.96" font-size="10.0" fill="#555" textLength="5.1" lengthAdjust="spacingAndGlyphs">L</text>
<text x="658.6" y="317.96" font-size="10.0" fill="#222" textLength="6.4" lengthAdjust="spacingAndGlyphs">C</text>
<text x="665.8" y="320.66" font-size="6.4" fill="#484848" textLength="5.3" lengthAdjust="spacingAndGlyphs">10</text>
<text x="672.6" y="317.96" font-size="10.0" fill="#222" textLength="19.8" lengthAdjust="spacingAndGlyphs">(n=5)</text>
<line x1="599.48" y1="324.25" x2="599.48" y2="338.65" stroke="#333333" stroke-width="1.3"/>
<rect x="593.95" y="327.35" width="11.05" height="8.2" fill="#0c98f5" stroke="#333333" stroke-width="1.3"/>
<line x1="593.95" y1="331.45" x2="605" y2="331.45" stroke="#333333" stroke-width="1.7"/>
<text x="609.1" y="335.2" font-size="10.0" fill="#222" textLength="40.9" lengthAdjust="spacingAndGlyphs">indoxacarb</text>
<text x="653.3" y="335.2" font-size="10.0" fill="#aaa" textLength="5.1" lengthAdjust="spacingAndGlyphs">L</text>
<text x="658.6" y="335.2" font-size="10.0" fill="#222" textLength="6.4" lengthAdjust="spacingAndGlyphs">C</text>
<text x="665.8" y="337.9" font-size="6.4" fill="#484848" textLength="5.3" lengthAdjust="spacingAndGlyphs">30</text>
<text x="672.6" y="335.2" font-size="10.0" fill="#222" textLength="19.8" lengthAdjust="spacingAndGlyphs">(n=5)</text>
<line x1="599.48" y1="341.49" x2="599.48" y2="355.89" stroke="#333333" stroke-width="1.3"/>
<rect x="593.95" y="344.59" width="11.05" height="8.2" fill="#0846b2" stroke="#333333" stroke-width="1.3"/>
<line x1="593.95" y1="348.69" x2="605" y2="348.69" stroke="#333333" stroke-width="1.7"/>
<text x="609.1" y="352.44" font-size="10.0" fill="#222" textLength="40.9" lengthAdjust="spacingAndGlyphs">indoxacarb</text>
<text x="653.3" y="352.44" font-size="10.0" fill="#aaa" textLength="5.1" lengthAdjust="spacingAndGlyphs">L</text>
<text x="658.6" y="352.44" font-size="10.0" fill="#222" textLength="6.4" lengthAdjust="spacingAndGlyphs">C</text>
<text x="665.8" y="355.14" font-size="6.4" fill="#484848" textLength="5.3" lengthAdjust="spacingAndGlyphs">50</text>
<text x="672.6" y="352.44" font-size="10.0" fill="#222" textLength="19.8" lengthAdjust="spacingAndGlyphs">(n=5)</text>
</svg>
</body></html>
